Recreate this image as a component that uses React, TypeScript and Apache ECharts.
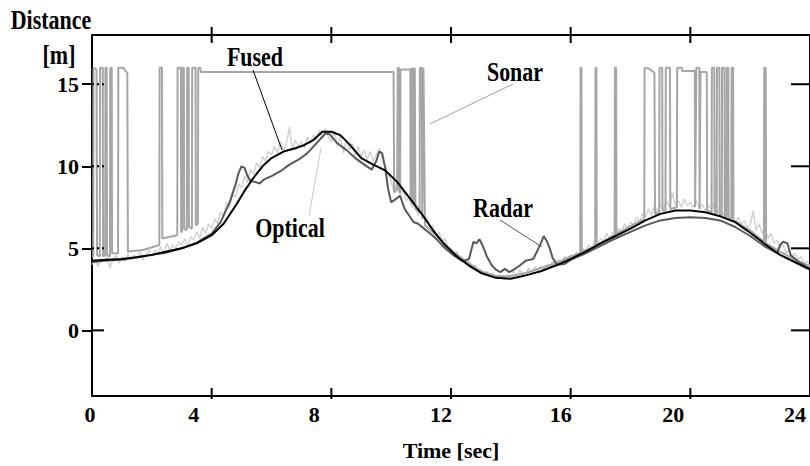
import React, { useEffect, useRef } from "react";
import * as echarts from "echarts";

// ---------- data ----------
const X_MIN = 0;
const X_MAX = 24;
const Y_MIN = -4;
const Y_MAX = 18;
const xTickValues = [0, 4, 8, 12, 16, 20, 24];
const xTickLabels = ["0", "4", "8", "12", "16", "20", "24"];
const yTickValues = [0, 5, 10, 15];

const fused: number[][] = [
  [0, 4.25], [0.5, 4.3], [1, 4.35], [1.5, 4.45], [2, 4.6], [2.5, 4.8], [3, 5.0], [3.5, 5.3],
  [4, 5.8], [4.4, 6.5], [4.8, 7.6], [5.1, 8.5], [5.4, 9.3], [5.7, 10.0], [6.0, 10.5], [6.4, 10.9],
  [6.8, 11.1], [7.1, 11.3], [7.4, 11.6], [7.7, 12.1], [8.0, 12.1], [8.3, 11.9], [8.6, 11.35],
  [9.0, 10.5], [9.4, 10.1], [9.8, 9.75], [10.2, 9.05], [10.6, 8.1], [11.0, 7.15], [11.4, 6.1],
  [11.8, 5.2], [12.2, 4.5], [12.6, 3.95], [13.0, 3.5], [13.5, 3.2], [14.0, 3.15], [14.5, 3.35],
  [15.0, 3.6], [15.5, 3.95], [16.0, 4.35], [16.5, 4.8], [17.0, 5.3], [17.5, 5.75], [18.0, 6.2],
  [18.5, 6.7], [19.0, 7.1], [19.5, 7.3], [20.0, 7.3], [20.5, 7.2], [21.0, 6.95], [21.5, 6.6],
  [22.0, 5.95], [22.5, 5.25], [23.0, 4.6], [23.5, 4.15], [24.0, 3.7],
];

const radar: number[][] = [
  [0, 4.15], [0.5, 4.25], [1, 4.3], [1.5, 4.45], [2, 4.6], [2.5, 4.75], [3, 5.0], [3.5, 5.35],
  [4, 5.9], [4.3, 6.6], [4.6, 7.8], [4.8, 8.9], [4.9, 9.6], [5.0, 10.0], [5.1, 9.9], [5.2, 9.4],
  [5.3, 9.1], [5.45, 9.05], [5.6, 8.95], [5.75, 9.2], [6.0, 9.4], [6.3, 9.7], [6.6, 10.1],
  [6.9, 10.4], [7.2, 10.8], [7.5, 11.4], [7.8, 12.0], [7.95, 11.95], [8.2, 11.4], [8.5, 11.0],
  [8.8, 10.5], [9.1, 10.1], [9.35, 9.8], [9.5, 10.3], [9.6, 10.9], [9.7, 10.8], [9.8, 9.9],
  [9.9, 8.6], [10.0, 7.8], [10.15, 8.0], [10.3, 8.2], [10.45, 7.4], [10.6, 7.0], [10.75, 6.6],
  [10.9, 6.5], [11.1, 6.2], [11.3, 5.9], [11.55, 5.5], [11.8, 5.0], [12.1, 4.55], [12.4, 4.2],
  [12.6, 4.35], [12.75, 5.4], [12.85, 5.3], [12.95, 5.55], [13.05, 5.2], [13.2, 4.5], [13.35, 4.0],
  [13.5, 3.7], [13.65, 3.55], [13.8, 3.75], [13.95, 3.55], [14.1, 3.7], [14.3, 3.95], [14.5, 4.25],
  [14.75, 4.35], [14.9, 4.9], [15.0, 5.3], [15.1, 5.75], [15.2, 5.45], [15.3, 5.0], [15.4, 4.4],
  [15.55, 4.0], [15.8, 4.05], [16.0, 4.3], [16.5, 4.7], [17.0, 5.15], [17.5, 5.6], [18.0, 6.0],
  [18.5, 6.4], [19.0, 6.7], [19.5, 6.85], [20.0, 6.9], [20.5, 6.85], [21.0, 6.7], [21.5, 6.3],
  [22.0, 5.75], [22.5, 5.1], [22.9, 4.7], [23.0, 5.2], [23.1, 5.4], [23.25, 5.3], [23.35, 4.6],
  [23.6, 4.2], [24.0, 3.75],
];

const sonar: number[][] = [
  [0.0, 4.5], [0.04, 4.5], [0.05, 16.0], [0.15, 15.9], [0.17, 4.6], [0.26, 4.5], [0.27, 16.0],
  [0.36, 16.0], [0.37, 4.5], [0.44, 4.6], [0.45, 16.0], [0.49, 16.0], [0.5, 4.6], [0.6, 4.5],
  [0.61, 16.0], [0.66, 16.0], [0.67, 4.7], [0.87, 4.7], [0.88, 16.0], [1.05, 16.0], [1.12, 15.8],
  [1.18, 15.7], [1.2, 4.8], [1.7, 4.9], [2.25, 5.2], [2.26, 16.0], [2.34, 16.0], [2.35, 5.6],
  [2.85, 5.8], [2.86, 16.0], [2.97, 16.0], [2.98, 6.0], [3.01, 6.0], [3.02, 16.0], [3.07, 16.0],
  [3.08, 6.2], [3.17, 6.1], [3.18, 16.0], [3.23, 16.0], [3.24, 6.3], [3.34, 6.2], [3.35, 16.0],
  [3.46, 16.0], [3.47, 6.4], [3.54, 6.5], [3.55, 16.0], [3.62, 16.0], [3.64, 15.75], [10.08, 15.75],
  [10.1, 8.4], [10.2, 8.6], [10.22, 16.0], [10.26, 16.0], [10.27, 8.5], [10.3, 8.4], [10.31, 15.9],
  [10.64, 15.9], [10.65, 7.9], [10.68, 16.0], [10.7, 7.7], [10.73, 16.0], [10.76, 7.6], [10.79, 16.0],
  [10.81, 7.4], [10.95, 7.2], [10.96, 16.0], [11.02, 16.0], [11.04, 6.8], [11.08, 16.0], [11.13, 6.4],
  [11.5, 5.8], [12.0, 4.9], [12.5, 4.2], [13.0, 3.6], [13.5, 3.3], [14.0, 3.3], [14.5, 3.5],
  [15.0, 3.8], [15.5, 4.1], [16.0, 4.5], [16.32, 4.7], [16.33, 16.0], [16.36, 16.0], [16.37, 4.8],
  [16.82, 5.1], [16.83, 16.0], [16.86, 16.0], [16.87, 5.2], [17.47, 5.8], [17.48, 16.0], [17.52, 16.0],
  [17.53, 5.9], [18.46, 6.8], [18.47, 16.0], [18.62, 15.95], [18.8, 15.7], [18.82, 7.1], [18.96, 7.2],
  [18.97, 16.0], [19.06, 16.0], [19.07, 7.3], [19.17, 7.3], [19.18, 16.0], [19.32, 16.0], [19.33, 7.4],
  [19.55, 7.5], [19.56, 16.0], [19.72, 16.0], [19.73, 15.8], [20.15, 15.8], [20.16, 7.5], [20.2, 16.0],
  [20.3, 16.0], [20.31, 7.4], [20.33, 7.4], [20.34, 15.75], [20.55, 15.75], [20.56, 7.3], [20.71, 7.2],
  [20.72, 16.0], [20.8, 16.0], [20.81, 7.2], [20.88, 7.1], [20.89, 16.0], [20.97, 16.0], [20.98, 7.1],
  [21.05, 7.0], [21.06, 16.0], [21.14, 16.0], [21.15, 6.9], [21.21, 6.9], [21.22, 16.0], [21.27, 16.0],
  [21.28, 6.8], [21.37, 6.8], [21.38, 16.0], [21.43, 16.0], [21.44, 6.7], [22.0, 6.1], [22.46, 5.4],
  [22.47, 16.0], [22.52, 16.0], [22.53, 5.3], [23.0, 4.8], [23.5, 4.3], [24.0, 3.9],
];

// optical sampled every 0.1 s starting at 0
const OPTICAL_T0 = 0;
const OPTICAL_DT = 0.1;
const optical: number[] = [
  4.0, 4.3, 3.9, 4.4, 4.2, 4.5, 3.8, 4.3, 4.6, 4.1,
  4.5, 4.2, 4.7, 4.3, 4.6, 4.4, 4.8, 4.3, 4.6, 4.9,
  4.5, 4.9, 4.7, 5.1, 4.6, 5.3, 4.9, 5.2, 5.0, 5.4,
  5.2, 5.6, 5.1, 5.7, 5.5, 6.0, 5.6, 6.3, 5.9, 6.5,
  6.2, 6.8, 6.5, 7.2, 7.0, 7.8, 7.5, 8.3, 8.1, 8.9,
  8.7, 9.4, 9.0, 9.8, 9.5, 10.2, 9.9, 10.6, 10.3, 10.9,
  10.7, 11.2, 10.8, 11.5, 11.0, 11.4, 12.4, 11.0, 11.6, 11.2,
  11.5, 11.1, 11.8, 11.4, 11.9, 11.6, 12.2, 11.7, 12.3, 11.8,
  11.5, 12.2, 11.2, 11.9, 10.8, 11.6, 11.0, 11.4, 10.6, 11.2,
  10.6, 11.0, 10.4, 10.9, 10.3, 10.7, 11.1, 10.5, 10.0, 9.5,
  9.1, 8.4, 9.0, 8.2, 8.6, 7.9, 8.1, 7.5, 7.7, 7.0,
  7.3, 6.8, 6.9, 6.3, 6.4, 5.8, 6.0, 5.4, 5.6, 5.0,
  5.0, 4.6, 4.8, 4.3, 4.4, 4.0, 4.2, 3.8, 4.0, 3.6,
  3.7, 3.4, 3.6, 3.3, 3.5, 3.2, 3.4, 3.3, 3.1, 3.4,
  3.3, 3.6, 3.3, 3.7, 3.4, 3.5, 3.8, 3.5, 3.9, 3.6,
  3.9, 3.7, 4.0, 3.8, 4.2, 4.0, 4.3, 4.1, 4.5, 4.3,
  4.6, 4.4, 4.8, 4.6, 5.0, 4.8, 5.2, 5.0, 5.5, 5.2,
  5.6, 5.4, 5.9, 5.6, 6.0, 5.8, 6.2, 6.0, 6.5, 6.2,
  6.6, 6.4, 6.9, 6.6, 7.1, 6.9, 7.4, 7.0, 7.6, 7.2,
  7.7, 7.4, 7.9, 7.5, 8.4, 7.6, 7.9, 7.5, 8.0, 7.6,
  7.8, 7.5, 7.9, 7.4, 7.7, 7.3, 7.6, 7.4, 7.8, 7.2,
  7.4, 7.0, 7.2, 6.8, 7.0, 6.6, 6.9, 6.5, 6.7, 6.3,
  6.4, 7.3, 6.1, 6.5, 5.9, 6.2, 5.6, 5.9, 5.3, 5.5,
  5.0, 5.2, 4.7, 4.9, 4.5, 4.7, 4.3, 4.5, 4.1, 4.2,
  3.9,
];

// ---------- styles ----------
const FONT = "Liberation Serif, Times New Roman, serif";
const FS = 22;
const TEXT_SY = 1.2; // the print's lettering is vertically stretched
// per-label horizontal nudge (px, negative = left) as in the reference print
const xLabelNudge = [-2, -18, -17, -10, -10, -17, -15];

function label(text: string, x: number, y: number) {
  return {
    type: "text",
    x,
    y,
    scaleY: TEXT_SY,
    z: 20,
    style: {
      text,
      fontFamily: FONT,
      fontWeight: "bold",
      fontSize: FS,
      fill: "#000",
      textAlign: "center",
      textVerticalAlign: "middle",
    },
  };
}

export default function App() {
  const ref = useRef<HTMLDivElement>(null);

  useEffect(() => {
    if (!ref.current) return;
    const chart = echarts.init(ref.current, undefined, { renderer: "svg" });

    const rich: Record<string, any> = {};
    xTickLabels.forEach((_, i) => {
      const n = xLabelNudge[i];
      rich["l" + i] = {
        fontFamily: FONT,
        fontWeight: "bold",
        fontSize: FS,
        color: "#000",
        padding: n < 0 ? [0, -2 * n, 0, 0] : [0, 0, 0, 2 * n],
      };
    });

    const blackLine = { show: true, onZero: false, lineStyle: { color: "#000", width: 2 } };
    const baseX = { type: "value", min: X_MIN, max: X_MAX, interval: 4, splitLine: { show: false } };
    const baseY = { type: "value", min: Y_MIN, max: Y_MAX, splitLine: { show: false } };

    const opticalData = optical.map((v, i) => [OPTICAL_T0 + i * OPTICAL_DT, v]);
    const innerXTicks = xTickValues.filter((v) => v > X_MIN && v < X_MAX).map((v) => [v, Y_MIN]);
    const yTickRows = yTickValues.map((v) => [X_MIN, v]);

    const tickStyle = { stroke: "#000", lineWidth: 2 };

    const option: any = {
      animation: false,
      backgroundColor: "#fff",
      grid: { left: 92, top: 35, width: 725, height: 363, containLabel: false },
      xAxis: [
        {
          ...baseX,
          position: "bottom",
          axisLine: blackLine,
          axisTick: { show: false },
          axisLabel: {
            show: true,
            margin: 7,
            showMinLabel: true,
            showMaxLabel: true,
            hideOverlap: false,
            formatter: (v: number) => {
              const i = xTickValues.indexOf(v);
              return i >= 0 ? `{l${i}|${xTickLabels[i]}}` : "";
            },
            rich,
          },
          name: "Time [sec]",
          nameLocation: "middle",
          nameGap: 43,
          nameTextStyle: { fontFamily: FONT, fontWeight: "bold", fontSize: FS, color: "#000" },
        },
        {
          ...baseX,
          position: "top",
          axisLine: blackLine,
          axisTick: { show: false },
          axisLabel: { show: false },
        },
      ],
      yAxis: [
        {
          ...baseY,
          position: "left",
          axisLine: blackLine,
          axisTick: {
            show: true,
            inside: false,
            length: 10,
            customValues: yTickValues,
            lineStyle: { color: "#000", width: 2 },
          },
          axisLabel: {
            show: true,
            margin: 13,
            customValues: yTickValues,
            fontFamily: FONT,
            fontWeight: "bold",
            fontSize: FS,
            color: "#000",
          },
        },
        {
          ...baseY,
          position: "right",
          axisLine: blackLine,
          axisTick: { show: false },
          axisLabel: { show: false },
        },
      ],
      series: [
        {
          name: "Optical",
          type: "line",
          data: opticalData,
          showSymbol: false,
          symbol: "none",
          lineStyle: { color: "#d2d2d2", width: 1.5 },
          z: 2,
        },
        {
          name: "Sonar",
          type: "line",
          data: sonar,
          showSymbol: false,
          symbol: "none",
          lineStyle: { color: "#a6a6a6", width: 2 },
          z: 3,
        },
        {
          name: "Radar",
          type: "line",
          data: radar,
          showSymbol: false,
          symbol: "none",
          lineStyle: { color: "#595959", width: 2 },
          z: 4,
        },
        {
          name: "Fused",
          type: "line",
          data: fused,
          showSymbol: false,
          symbol: "none",
          lineStyle: { color: "#000", width: 2 },
          z: 5,
        },
        {
          // tick marks on the bottom and top frame edges
          name: "xTicks",
          type: "custom",
          silent: true,
          clip: false,
          z: 6,
          data: innerXTicks,
          renderItem: (_p: any, api: any) => {
            const v = api.value(0);
            const b = api.coord([v, Y_MIN]);
            const t = api.coord([v, Y_MAX]);
            return {
              type: "group",
              children: [
                { type: "line", shape: { x1: b[0], y1: b[1] - 8, x2: b[0], y2: b[1] + 3 }, style: tickStyle },
                { type: "line", shape: { x1: t[0], y1: t[1] - 8, x2: t[0], y2: t[1] + 8 }, style: tickStyle },
              ],
            };
          },
        },
        {
          // inner ticks on the left (dotted, solid at 0) and right frame edges
          name: "yTicks",
          type: "custom",
          silent: true,
          clip: false,
          z: 6,
          data: yTickRows,
          renderItem: (_p: any, api: any) => {
            const v = api.value(1);
            const l = api.coord([X_MIN, v]);
            const r = api.coord([X_MAX, v]);
            const isZero = v === 0;
            return {
              type: "group",
              children: [
                {
                  type: "line",
                  shape: { x1: l[0], y1: l[1], x2: l[0] + (isZero ? 12 : 15), y2: l[1] },
                  style: isZero ? tickStyle : { stroke: "#000", lineWidth: 2, lineDash: [2, 3] },
                },
                { type: "line", shape: { x1: r[0] - 19, y1: r[1], x2: r[0], y2: r[1] }, style: tickStyle },
              ],
            };
          },
        },
      ],
      graphic: [
        label("Distance", 51, 20),
        label("[m]", 59, 55),
        label("Fused", 255, 57),
        label("Sonar", 515, 72),
        label("Optical", 290, 228),
        label("Radar", 503, 208),
        { type: "line", shape: { x1: 253, y1: 70, x2: 282, y2: 150 }, style: { stroke: "#000", lineWidth: 1 }, z: 10 },
        { type: "line", shape: { x1: 513, y1: 84, x2: 430, y2: 124 }, style: { stroke: "#a0a0a0", lineWidth: 1 }, z: 10 },
        { type: "line", shape: { x1: 309, y1: 216, x2: 321, y2: 148 }, style: { stroke: "#c8c8c8", lineWidth: 1 }, z: 10 },
        { type: "line", shape: { x1: 500, y1: 220, x2: 542, y2: 247 }, style: { stroke: "#555", lineWidth: 1 }, z: 10 },
      ],
    };

    chart.setOption(option);
    return () => chart.dispose();
  }, []);

  return (
    <div
      ref={ref}
      style={{ position: "absolute", left: 0, top: 0, width: 810, height: 466, background: "#fff" }}
    />
  );
}
